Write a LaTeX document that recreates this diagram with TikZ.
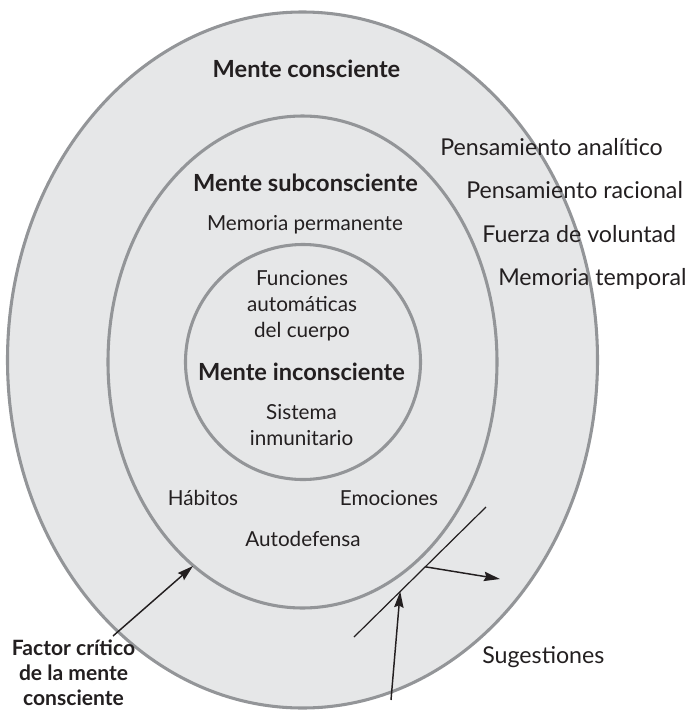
\documentclass[tikz,border=0pt]{standalone}
\usepackage{fontspec}
\setmainfont{Lato}
\usetikzlibrary{arrows.meta,calc}
\definecolor{fondo}{HTML}{E6E7E8}
\definecolor{borde}{HTML}{939598}
\definecolor{tinta}{HTML}{231F20}
\tikzset{
  zona/.style={draw=borde,fill=fondo,line width=2.3pt},
  titulo/.style={anchor=base,text=tinta,font=\fontsize{17.7}{19}\selectfont\bfseries},
  rasgo/.style={anchor=base,text=tinta,align=center,font=\fontsize{15.5}{19.5}\selectfont},
  rasgoext/.style={anchor=base west,inner xsep=0pt,text=tinta,font=\fontsize{17.4}{20}\selectfont},
  flecha/.style={draw=tinta,line width=1.1pt,-{Stealth[length=12pt,width=7pt,inset=1.5pt]}},
}
\begin{document}
\begin{tikzpicture}[x=0.75pt,y=-0.75pt]
\useasboundingbox (0,0) rectangle (689,711);

% Rings
\draw[zona] (302.5,360) ellipse [x radius=295, y radius=348];
\draw[zona] (302.5,362) ellipse [x radius=194.5, y radius=246];
\draw[zona] (303,362) circle [radius=117.5];

% Mente consciente
\node[titulo] (consciente) at (306.5,77) {Mente consciente};

% Mente subconsciente
\node[titulo] (subconsciente) at (305.5,191) {Mente subconsciente};
\node[rasgo] (permanente) at (305,230) {Memoria permanente};
\node[rasgo] (habitos) at (203,505) {Hábitos};
\node[rasgo] (emociones) at (389,505) {Emociones};
\node[rasgo] (autodefensa) at (303,546) {Autodefensa};

% Mente inconsciente (base = last line)
\node[rasgo] (funciones) at (302,337) {Funciones\\automáticas\\del cuerpo};
\node[titulo] (inconsciente) at (301.5,380) {Mente inconsciente};
\node[rasgo] (inmunitario) at (301.5,445) {Sistema\\inmunitario};

% Right hand list
\node[rasgoext] (analitico) at (440,155) {Pensamiento analítico};
\node[rasgoext] (racional) at (466,198) {Pensamiento racional};
\node[rasgoext] (voluntad) at (482,242) {Fuerza de voluntad};
\node[rasgoext] (temporal) at (498,285) {Memoria temporal};

% Factor critico
\node[titulo,align=center,inner sep=0pt,font=\fontsize{15.8}{18.75}\selectfont\bfseries]
  (factor) at (73.5,705) {Factor crítico\\de la mente\\consciente};
\coordinate (factor-pie) at (113,636);
\coordinate (factor-punta) at (193,566);
\draw[flecha] (factor-pie) -- (factor-punta);

% Sugestiones
\node[rasgoext] (sugestiones) at (482,663) {Sugestiones};
\coordinate (filtro-a) at (354,637);
\coordinate (filtro-b) at (486,507);
\draw[draw=tinta,line width=0.9pt] (filtro-a) -- (filtro-b);
\coordinate (sugestion-pie) at (391,700);
\coordinate (rebote) at (500,579);
\draw[flecha] (sugestion-pie) -- ($(filtro-a)!0.35!(filtro-b)$);
\draw[flecha] ($(filtro-a)!0.54!(filtro-b)$) -- (rebote);

\end{tikzpicture}
\end{document}
